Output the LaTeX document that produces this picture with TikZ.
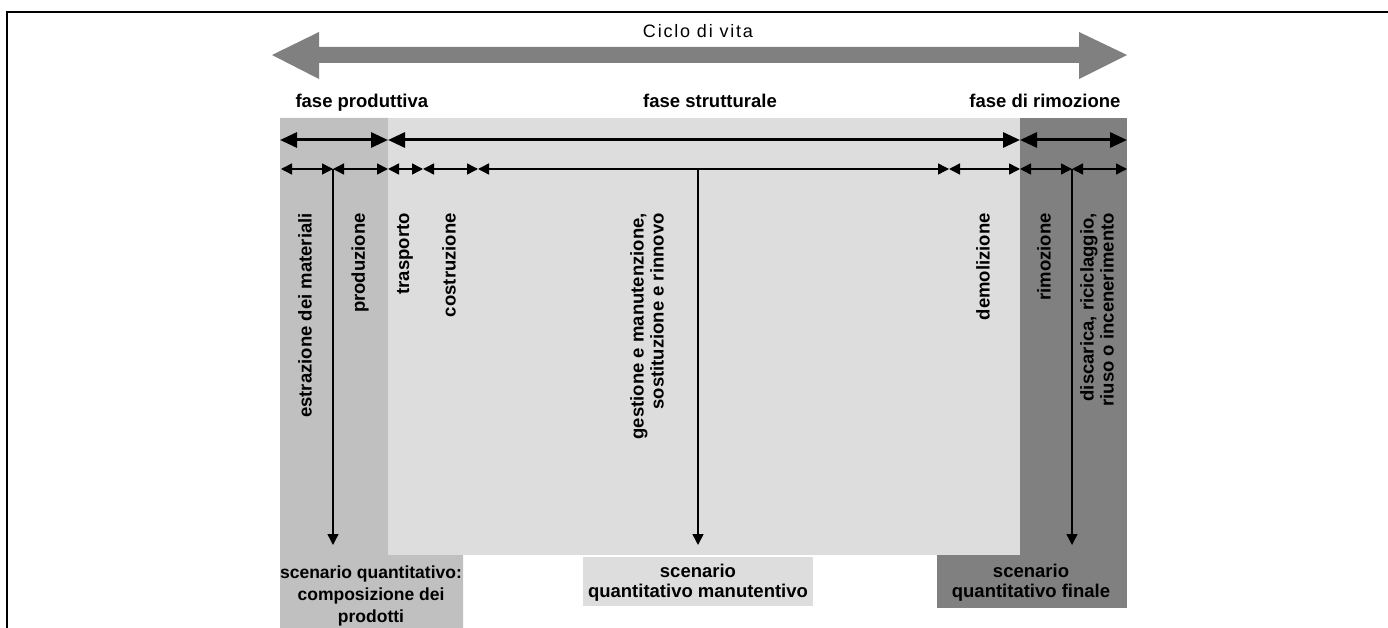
\documentclass[tikz,border=0pt]{standalone}
\usepackage{fontspec}
\setmainfont{Liberation Sans}
\usetikzlibrary{arrows.meta}

\definecolor{chiaro}{HTML}{DDDDDD}
\definecolor{medio}{HTML}{C0C0C0}
\definecolor{scuro}{HTML}{808080}

\tikzset{
    grossa/.style = {line width = 3pt, {Triangle[length = 17pt, width = 15pt]}-{Triangle[length = 17pt, width = 15pt]}},
    sottile/.style = {line width = 1.5pt, {Triangle[length = 11pt, width = 11pt]}-{Triangle[length = 11pt, width = 11pt]}},
    discesa/.style = {line width = 1.5pt, -{Triangle[length = 11pt, width = 11pt]}},
    voce/.style = {rotate = 90, anchor = east, align = right, inner sep = 0pt}
}

\begin{document}
\begin{tikzpicture}[x = 1pt, y = -1pt]
    \useasboundingbox (0,0) rectangle (1388,628);
    \draw[line width = 2.5pt] (7,628) -- (7,12) -- (1388,12);
    % fasce
    \fill[medio] (280,118) -- (388,118) -- (388,555) -- (463,555) -- (463,628) -- (280,628) -- cycle;
    \fill[chiaro] (388,118) rectangle (1020,555);
    \fill[chiaro] (583,557) rectangle (813,606);
    \fill[scuro] (1020,118) rectangle (1127,555);
    \fill[scuro] (937,555) rectangle (1127,608);
    % ciclo di vita
    \fill[scuro] (272,55) -- (319,32) -- (319,47) -- (1079,47) -- (1079,32) -- (1127,55)
        -- (1079,79) -- (1079,63) -- (319,63) -- (319,79) -- cycle;
    \node[anchor = base, font = \fontsize{18}{22}\selectfont\addfontfeature{LetterSpace = 10}] (ciclo) at (698,38) {Ciclo di vita};
    \begin{scope}[every node/.append style = {font = \fontsize{18.5}{20}\selectfont\bfseries}]
        \node[anchor = base west] (produttiva) at (292,108) {fase produttiva};
        \node[anchor = base] (strutturale) at (710,108) {fase strutturale};
        \node[anchor = base east] (rimozione) at (1124,108) {fase di rimozione};
        \foreach \x [count = \i] in {280, 388, 1020, 1127}
            \coordinate (f\i) at (\x,140);
        \foreach \i in {1, ..., 3} {
            \pgfmathtruncatemacro{\j}{\i+1}
            \draw[grossa] (f\i) -- (f\j);
        }
        \foreach \x [count = \i] in {281, 333, 388, 423, 478, 949, 1020, 1072, 1127}
            \coordinate (t\i) at (\x,169);
        \foreach \i in {1, ..., 8} {
            \pgfmathtruncatemacro{\j}{\i+1}
            \draw[sottile] (t\i) -- (t\j);
        }
        \node[voce] (estrazione) at (305,213) {estrazione dei materiali};
        \node[voce] (produzione) at (360,213) {produzione};
        \node[voce] (trasporto) at (405,213) {trasporto};
        \node[voce] (costruzione) at (449,213) {costruzione};
        \node[voce] (gestione) at (647,213) {gestione e manutenzione,\\sostituzione e rinnovo};
        \node[voce] (demolizione) at (983,213) {demolizione};
        \node[voce] (rimozionev) at (1044,213) {rimozione};
        \node[voce] (discarica) at (1097,213) {discarica, riciclaggio,\\riuso o incenerimento};
        % scenari
        \coordinate (m) at (698,169);
        \coordinate (sA) at (333,545);
        \coordinate (sB) at (698,545);
        \coordinate (sC) at (1072,545);
        \draw[discesa] (t2) -- (sA);
        \draw[discesa] (m) -- (sB);
        \draw[discesa] (t8) -- (sC);
        \node[align = center, font = \fontsize{17.5}{22}\selectfont\bfseries] (prodotti) at (371,596) {scenario quantitativo:\\composizione dei\\prodotti};
        \node[align = center] (manutentivo) at (698,583) {scenario\\quantitativo manutentivo};
        \node[align = center] (finale) at (1031,583) {scenario\\quantitativo finale};
    \end{scope}
\end{tikzpicture}
\end{document}
